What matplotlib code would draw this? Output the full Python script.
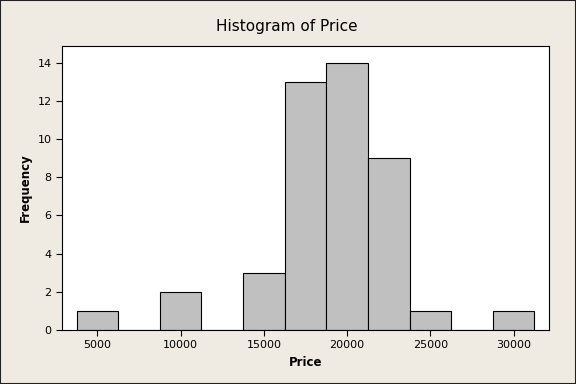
import matplotlib
matplotlib.use("Agg")
import matplotlib.pyplot as plt
from matplotlib.patches import Rectangle

bin_centers = [5000, 7500, 10000, 12500, 15000, 17500, 20000, 22500, 25000, 27500, 30000]
counts = [1, 0, 2, 0, 3, 13, 14, 9, 1, 0, 1]
bin_width = 2500
x_ticks = [5000, 10000, 15000, 20000, 25000, 30000]
y_ticks = [0, 2, 4, 6, 8, 10, 12, 14]

bg = "#EFEBE2"
fig = plt.figure(figsize=(5.76, 3.84), dpi=100, facecolor=bg)
ax = fig.add_axes([62/576, 1-330/384, (549-62)/576, (330-46)/384])
ax.set_facecolor("white")

ax.bar(bin_centers, counts, width=bin_width, color="#C0C0C0", edgecolor="black", linewidth=0.8)

ax.set_xlim(2875, 32125)
ax.set_ylim(0, 14.87)
ax.set_xticks(x_ticks)
ax.set_yticks(y_ticks)
ax.tick_params(direction="out", length=4, width=0.8, labelsize=8, colors="black")
for s in ax.spines.values():
    s.set_linewidth(0.8)

fig.text(287/576, 1-27/384, "Histogram of Price", fontsize=11, ha="center", va="center")
ax.set_xlabel("Price", fontsize=8.5, fontweight="bold", labelpad=4)
ax.set_ylabel("Frequency", fontsize=8.5, fontweight="bold", labelpad=4)

fig.patches.append(Rectangle((0, 0), 1, 1, transform=fig.transFigure, fill=False,
                             edgecolor="#222222", linewidth=1.5))

fig.savefig("out.png", dpi=100, facecolor=bg)
